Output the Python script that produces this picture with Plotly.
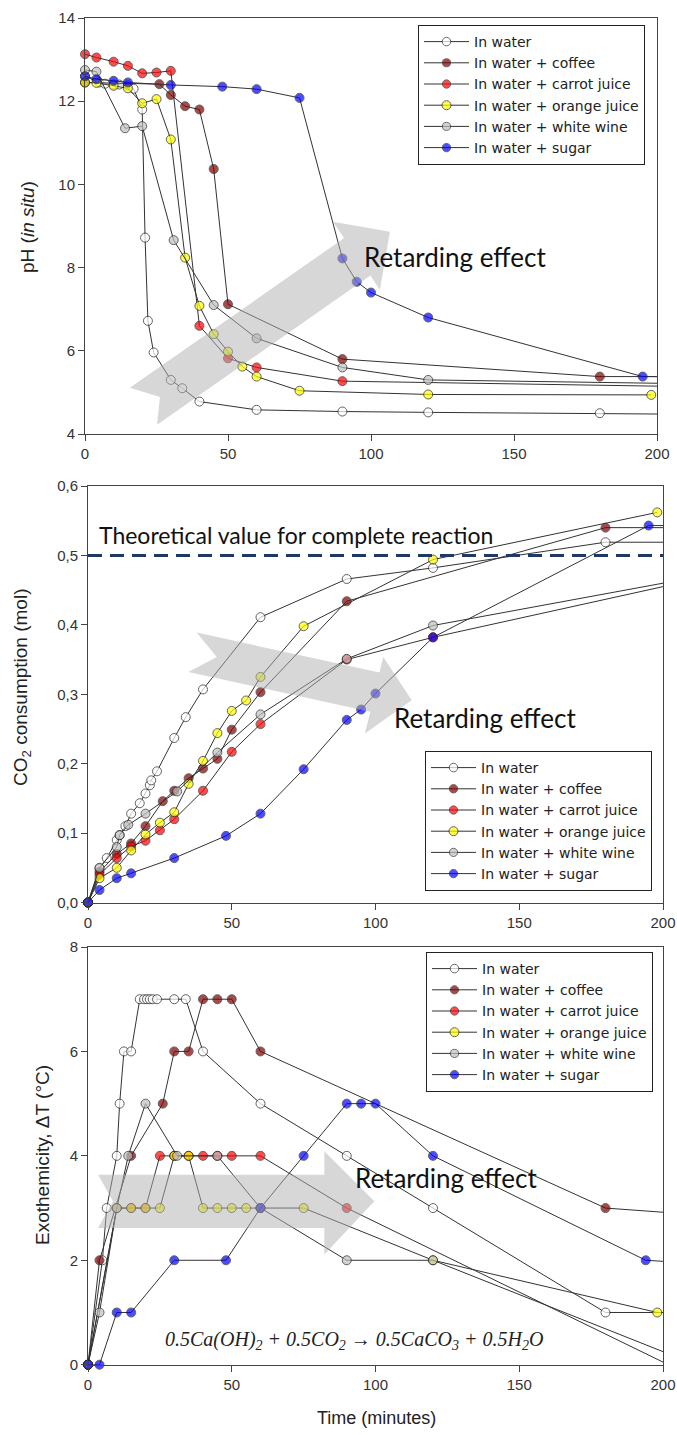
import plotly.graph_objects as go

# ---------------- DATA ----------------
names = ["In water", "In water + coffee", "In water + carrot juice",
         "In water + orange juice", "In water + white wine", "In water + sugar"]
fills = ["white", "#800000", "#ff0000", "#ffff00", "#c0c0c0", "#0000ff"]

# Panel 1: pH (in situ)
ph_water_t = [0, 5, 7, 10, 12, 15, 17, 20, 21, 22, 24, 30, 34, 40, 60, 90, 120, 180, 200]
ph_water = [12.6, 12.45, 12.42, 12.4, 12.4, 12.38, 12.3, 11.8, 8.72, 6.72, 5.96, 5.3, 5.1, 4.78, 4.58, 4.54, 4.52, 4.5, 4.48]
ph_coffee_t = [0, 26, 30, 35, 40, 45, 50, 90, 180, 200]
ph_coffee = [12.45, 12.41, 12.15, 11.88, 11.8, 10.37, 7.12, 5.8, 5.38, 5.38]
ph_carrot_t = [0, 4, 10, 15, 20, 25, 30, 40, 50, 60, 90, 200]
ph_carrot = [13.13, 13.05, 12.95, 12.85, 12.67, 12.69, 12.73, 6.6, 5.82, 5.6, 5.27, 5.15]
ph_orange_t = [0, 4, 10, 15, 20, 25, 30, 35, 40, 45, 50, 55, 60, 75, 120, 198]
ph_orange = [12.45, 12.44, 12.37, 12.31, 11.95, 12.05, 11.08, 8.24, 7.08, 6.4, 5.98, 5.62, 5.38, 5.04, 4.95, 4.94]
ph_wine_t = [0, 4, 14, 20, 31, 45, 60, 90, 120, 200]
ph_wine = [12.75, 12.71, 11.35, 11.4, 8.66, 7.1, 6.3, 5.6, 5.3, 5.22]
ph_sugar_t = [0, 4, 10, 15, 30, 48, 60, 75, 90, 95, 100, 120, 195, 200]
ph_sugar = [12.6, 12.53, 12.49, 12.45, 12.39, 12.35, 12.29, 12.08, 8.22, 7.66, 7.4, 6.8, 5.38, 5.38]

# Panel 2: CO2 consumption (mol)
co2_water_t = [0, 4, 6.5, 10, 11, 13, 15, 18, 20, 21.5, 22, 24, 30, 34, 40, 60, 90, 120, 180, 200]
co2_water = [0, 0.049, 0.064, 0.09, 0.097, 0.11, 0.128, 0.143, 0.157, 0.169, 0.176, 0.189, 0.237, 0.267, 0.307, 0.411, 0.466, 0.482, 0.519, 0.519]
co2_coffee_t = [0, 4, 10, 15, 20, 26, 30, 35, 40, 45, 50, 60, 90, 180, 200]
co2_coffee = [0, 0.044, 0.07, 0.085, 0.11, 0.146, 0.161, 0.179, 0.193, 0.207, 0.249, 0.303, 0.434, 0.54, 0.54]
co2_carrot_t = [0, 4, 10, 15, 20, 25, 30, 40, 50, 60, 90, 120, 200]
co2_carrot = [0, 0.04, 0.064, 0.081, 0.089, 0.104, 0.12, 0.161, 0.217, 0.257, 0.35, 0.382, 0.455]
co2_orange_t = [0, 4, 10, 15, 20, 25, 30, 35, 40, 45, 50, 55, 60, 75, 120, 198]
co2_orange = [0, 0.035, 0.05, 0.075, 0.098, 0.115, 0.13, 0.171, 0.204, 0.244, 0.276, 0.291, 0.325, 0.398, 0.494, 0.562]
co2_wine_t = [0, 4, 10, 11, 14, 20, 31, 45, 60, 90, 120, 200]
co2_wine = [0, 0.05, 0.08, 0.097, 0.112, 0.128, 0.16, 0.216, 0.271, 0.351, 0.399, 0.46]
co2_sugar_t = [0, 4, 10, 15, 30, 48, 60, 75, 90, 95, 100, 120, 195, 200]
co2_sugar = [0, 0.018, 0.035, 0.042, 0.064, 0.096, 0.128, 0.192, 0.263, 0.278, 0.301, 0.382, 0.543, 0.543]
co2_theoretical = 0.5

# Panel 3: Exothermicity dT (°C)
dt_water_t = [0, 5, 6.5, 10, 11, 12.5, 15, 18, 19.5, 20.5, 21.5, 22.5, 24, 30, 34, 40, 60, 90, 120, 180, 200]
dt_water = [0, 2, 3, 4, 5, 6, 6, 7, 7, 7, 7, 7, 7, 7, 7, 6, 5, 4, 3, 1, 1]
dt_coffee_t = [0, 4, 15, 26, 30, 35, 40, 45, 50, 60, 180, 200]
dt_coffee = [0, 2, 4, 5, 6, 6, 7, 7, 7, 6, 3, 2.92]
dt_carrot_t = [0, 10, 15, 20, 25, 30, 35, 40, 45, 50, 60, 90, 200]
dt_carrot = [0, 3, 3, 3, 4, 4, 4, 4, 4, 4, 4, 3, 0.05]
dt_orange_t = [0, 10, 15, 20, 25, 30, 35, 40, 45, 50, 55, 60, 75, 120, 198]
dt_orange = [0, 3, 3, 3, 3, 4, 4, 3, 3, 3, 3, 3, 3, 2, 1]
dt_wine_t = [0, 4, 10, 14, 20, 31, 45, 60, 90, 120, 200]
dt_wine = [0, 1, 3, 4, 5, 4, 4, 3, 2, 2, 0.25]
dt_sugar_t = [0, 4, 10, 15, 30, 48, 60, 75, 90, 95, 100, 120, 194, 200]
dt_sugar = [0, 0, 1, 1, 2, 2, 3, 4, 5, 5, 5, 4, 2, 1.98]

x_ticks = [0, 50, 100, 150, 200]

panels = [
    ([(ph_water_t, ph_water), (ph_coffee_t, ph_coffee), (ph_carrot_t, ph_carrot),
      (ph_orange_t, ph_orange), (ph_wine_t, ph_wine), (ph_sugar_t, ph_sugar)], "x", "y", "legend"),
    ([(co2_water_t, co2_water), (co2_coffee_t, co2_coffee), (co2_carrot_t, co2_carrot),
      (co2_orange_t, co2_orange), (co2_wine_t, co2_wine), (co2_sugar_t, co2_sugar)], "x2", "y2", "legend2"),
    ([(dt_water_t, dt_water), (dt_coffee_t, dt_coffee), (dt_carrot_t, dt_carrot),
      (dt_orange_t, dt_orange), (dt_wine_t, dt_wine), (dt_sugar_t, dt_sugar)], "x3", "y3", "legend3"),
]

W, H = 677, 1435
fig = go.Figure()

LINE = "#333333"
for series, xa, ya, lg in panels:
    for (t, v), nm, fc in zip(series, names, fills):
        sizes = [0 if ti >= 200 else 9 for ti in t]
        lws = [0 if ti >= 200 else 1 for ti in t]
        fig.add_trace(go.Scatter(
            x=t, y=v, name=nm, mode="lines+markers", xaxis=xa, yaxis=ya, legend=lg,
            line=dict(color=LINE, width=1),
            marker=dict(symbol="circle", size=sizes, color=fc,
                        line=dict(color="#222222", width=lws)),
            cliponaxis=False, showlegend=True, hoverinfo="skip"))


def ydom(top, bottom):
    return [1 - bottom / H, 1 - top / H]


axis_common = dict(showline=True, linecolor="#444444", linewidth=1, mirror=True,
                   ticks="outside", ticklen=6, tickcolor="#444444", showgrid=False,
                   zeroline=False, automargin=False,
                   tickfont=dict(family="Liberation Sans, Arial", size=15, color="#333333"))

layout = dict(
    width=W, height=H, margin=dict(l=0, r=0, t=0, b=0, pad=0, autoexpand=False), autosize=False,
    paper_bgcolor="white", plot_bgcolor="white", separators=", ",
    xaxis=dict(domain=[85 / W, 657 / W], range=[0, 200], tickvals=x_ticks, anchor="y", **axis_common),
    yaxis=dict(domain=ydom(18, 434), range=[4, 14], dtick=2, anchor="x", **axis_common),
    xaxis2=dict(domain=[88 / W, 663 / W], range=[0, 200], tickvals=x_ticks, anchor="y2", **axis_common),
    yaxis2=dict(domain=ydom(486, 902.5), range=[0, 0.6], dtick=0.1, tickformat=".1f", anchor="x2", **axis_common),
    xaxis3=dict(domain=[88 / W, 663 / W], range=[0, 200], tickvals=x_ticks, anchor="y3", **axis_common),
    yaxis3=dict(domain=ydom(947, 1364.7), range=[0, 8], dtick=2, anchor="x3", **axis_common),
)

leg_common = dict(bgcolor="white", bordercolor="#222222", borderwidth=1, itemwidth=45,
                  font=dict(family="DejaVu Sans, Liberation Sans, Arial", size=14, color="#222222"),
                  xanchor="left", yanchor="top", tracegroupgap=0, itemclick=False)
layout["legend"] = dict(x=418 / W, y=1 - 25 / H, **leg_common)
layout["legend2"] = dict(x=425 / W, y=1 - 751 / H, **leg_common)
layout["legend3"] = dict(x=426 / W, y=1 - 952 / H, **leg_common)
fig.update_layout(**layout)

# Arrows ("Retarding effect") as translucent shapes
ARROW_FILL = "rgba(175,175,175,0.5)"


def poly(pts):
    return "M " + " L ".join(f"{a},{b}" for a, b in pts) + " Z"


arrow_top = [(15.7, 5.11), (90.6, 8.71), (86.7, 9.10), (106.6, 8.86), (103.1, 7.46),
             (99.8, 7.81), (25.2, 4.22), (26.2, 4.89)]
arrow_mid = [(37.8, 0.3888), (101.4, 0.3312), (102.7, 0.3537), (112.6, 0.2914), (96.3, 0.2435),
             (98.2, 0.2748), (34.9, 0.3321), (44.8, 0.3537)]
arrow_bot = [(3.5, 3.64), (82.2, 3.64), (82.2, 4.09), (99.6, 3.13), (82.2, 2.11),
             (82.2, 2.62), (3.5, 2.62), (8.7, 3.13)]
for pts, xr, yr in [(arrow_top, "x", "y"), (arrow_mid, "x2", "y2"), (arrow_bot, "x3", "y3")]:
    fig.add_shape(type="path", path=poly(pts), xref=xr, yref=yr, fillcolor=ARROW_FILL,
                  line=dict(width=0), layer="above")

fig.add_shape(type="line", x0=0, x1=200, y0=co2_theoretical, y1=co2_theoretical, xref="x2", yref="y2",
              line=dict(color="#1f3864", width=3, dash="14px,8px"), layer="above")

TXT = dict(family="Lato, Open Sans, sans-serif", color="#111111")
ann = [
    dict(text="Retarding effect", x=96.9, y=8.25, xref="x", yref="y", xanchor="left", yanchor="middle",
         showarrow=False, font=dict(size=26, **TXT)),
    dict(text="Theoretical value for complete reaction", x=3.1, y=0.530, xref="x2", yref="y2",
         xanchor="left", yanchor="middle", showarrow=False, font=dict(size=23, **TXT)),
    dict(text="Retarding effect", x=105.7, y=0.2655, xref="x2", yref="y2", xanchor="left", yanchor="middle",
         showarrow=False, font=dict(size=26, **TXT)),
    dict(text="Retarding effect", x=92.3, y=3.58, xref="x3", yref="y3", xanchor="left", yanchor="middle",
         showarrow=False, font=dict(size=26, **TXT)),
    dict(text="<i>0.5Ca(OH)<sub>2</sub> + 0.5CO<sub>2</sub> → 0.5CaCO<sub>3</sub> + 0.5H<sub>2</sub>O</i>",
         x=26, y=0.47, xref="x3", yref="y3", xanchor="left", yanchor="middle", showarrow=False,
         font=dict(family="Liberation Serif, DejaVu Serif, serif", size=20, color="#222222")),
    # axis titles
    dict(text="pH (<i>in situ</i>)", x=28 / W, y=1 - 227 / H, xref="paper", yref="paper", textangle=-90,
         showarrow=False, xanchor="center", yanchor="middle",
         font=dict(family="Liberation Sans, Arial", size=19, color="#222222")),
    dict(text="CO<sub>2</sub> consumption (mol)", x=22 / W, y=1 - 688 / H, xref="paper", yref="paper",
         textangle=-90, showarrow=False, xanchor="center", yanchor="middle",
         font=dict(family="Liberation Sans, Arial", size=19, color="#222222")),
    dict(text="Exothemicity, ΔT (°C)", x=42 / W, y=1 - 1155 / H, xref="paper", yref="paper",
         textangle=-90, showarrow=False, xanchor="center", yanchor="middle",
         font=dict(family="Liberation Sans, Arial", size=19, color="#222222")),
    dict(text="Time (minutes)", x=376 / W, y=1 - 1418 / H, xref="paper", yref="paper",
         showarrow=False, xanchor="center", yanchor="middle",
         font=dict(family="Liberation Sans, Arial", size=18, color="#222222")),
]
fig.update_layout(annotations=ann)

fig.write_html(
    "out.html",
    config={"displayModeBar": False, "staticPlot": True},
    post_script=(
        "document.documentElement.style.margin='0';"
        "document.documentElement.style.padding='0';"
        "document.documentElement.style.overflow='hidden';"
        "document.body.style.margin='0';document.body.style.padding='0';"
        "document.body.style.overflow='hidden';"
        "var gd=document.getElementById('{plot_id}');"
        "gd.style.position='fixed';gd.style.left='0px';gd.style.top='0px';"
    ),
)
